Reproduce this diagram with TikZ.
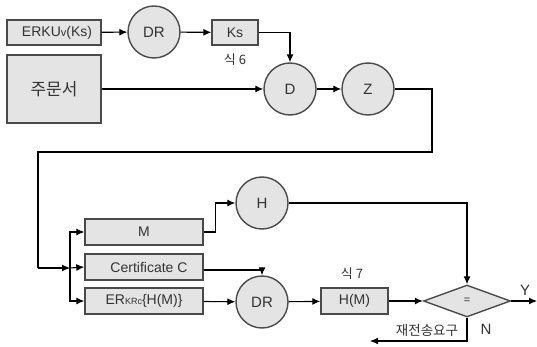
\documentclass[tikz,border=0pt]{standalone}
\usepackage{fontspec}
\setmainfont{Liberation Sans}
\newfontfamily\kr{Noto Sans CJK KR}
\usetikzlibrary{shapes.geometric,arrows.meta}
\definecolor{boxfill}{HTML}{E4E4E4}
\definecolor{edge}{HTML}{4A4A4A}
\definecolor{txt}{HTML}{333333}
\tikzset{
  boxnode/.style={draw=edge,line width=1.4pt,fill=boxfill,inner sep=0pt,text=txt,font=\fontsize{14}{16}\selectfont},
  circnode/.style={circle,draw=edge,line width=1.4pt,fill=boxfill,minimum size=52pt,inner sep=0pt,text=txt,font=\fontsize{15}{17}\selectfont},
  conn/.style={line width=1.1pt,draw=black},
  arr/.style={conn,-{Latex[length=8pt,width=7pt]}},
  lbl/.style={text=txt,inner sep=0pt,font=\fontsize{13}{15}\selectfont},
}
\begin{document}
\begin{tikzpicture}[x=1pt,y=-1pt]
\useasboundingbox (0,0) rectangle (537,347);
% top row
\node[boxnode,minimum width=94pt,minimum height=25pt] (erk) at (54,32.5) {\hspace*{6pt}ERKU{\fontsize{11}{12}\selectfont v}(Ks)};
\node[circnode] (dr1) at (154,32) {DR};
\node[boxnode,minimum width=46pt,minimum height=25pt] (ks) at (235,32.5) {Ks};
\node[lbl,font=\kr\fontsize{13}{15}\selectfont] (s6) at (235,60) {식 6};
\node[boxnode,minimum width=94pt,minimum height=68pt,font=\kr\fontsize{17}{19}\selectfont] (ord) at (54,89) {주문서};
\node[circnode] (D) at (290,89) {D};
\node[circnode] (Z) at (368,89) {Z};
\draw[arr] (erk) -- (dr1);
\draw[arr] (dr1) -- (ks);
\draw[arr] (ks.east) -| (D.north);
\draw[arr] (ord) -- (D);
\draw[arr] (D) -- (Z);
% loop down
\coordinate (r1) at (432,89);
\coordinate (r2) at (432,152);
\coordinate (l1) at (38,152);
\coordinate (l2) at (38,268);
\coordinate (j) at (70,268);
% middle boxes
\node[boxnode,minimum width=118pt,minimum height=26pt] (M) at (144,232) {M};
\node[boxnode,minimum width=118pt,minimum height=26pt] (cert) at (144,267) {\hspace*{10pt}Certificate C};
\node[boxnode,minimum width=118pt,minimum height=26pt] (er) at (144,301) {ER{\fontsize{9}{10}\selectfont KRc}\{H(M)\}};
\node[circnode] (H) at (262,203) {H};
\node[circnode] (dr2) at (262,302) {DR};
\node[boxnode,minimum width=67pt,minimum height=26pt] (hm) at (354.5,301) {H(M)};
\node[lbl,font=\kr\fontsize{13}{15}\selectfont] (s7) at (352,274) {식 7};
\node[diamond,draw=edge,line width=1.4pt,fill=boxfill,minimum width=87pt,minimum height=32pt,inner sep=0pt,text=txt,font=\fontsize{11}{12}\selectfont] (eq) at (467,301) {=};
\draw[conn] (Z.east) -- (r1) -- (r2) -- (l1) -- (l2);
\draw[arr] (l2) -- (j);
\draw[arr] (j) |- (M.west);
\draw[arr] (j) -- (cert.west);
\draw[arr] (j) |- (er.west);
\draw[arr] (M.east) -- ++(12,0) |- (H.west);
\draw[arr] ([yshift=-3pt]cert.east) -| (dr2.north);
\draw[arr] (er) -- (dr2);
\draw[arr] (dr2) -- (hm);
\draw[arr] (H.east) -| (eq.north);
\draw[arr] (hm) -- (eq);
\coordinate (yend) at (537,301);
\draw[arr] (eq.east) -- (yend);
\node[lbl,font=\fontsize{15}{17}\selectfont] (Y) at (525,290) {Y};
\coordinate (nb) at (467,341);
\coordinate (nend) at (370,341);
\draw[arr] (eq.south) -- (nb) -- (nend);
\node[lbl,font=\fontsize{15}{17}\selectfont] (N) at (486,329) {N};
\node[lbl,font=\kr\fontsize{13.5}{15}\selectfont] (re) at (427,330) {재전송요구};
\end{tikzpicture}
\end{document}
